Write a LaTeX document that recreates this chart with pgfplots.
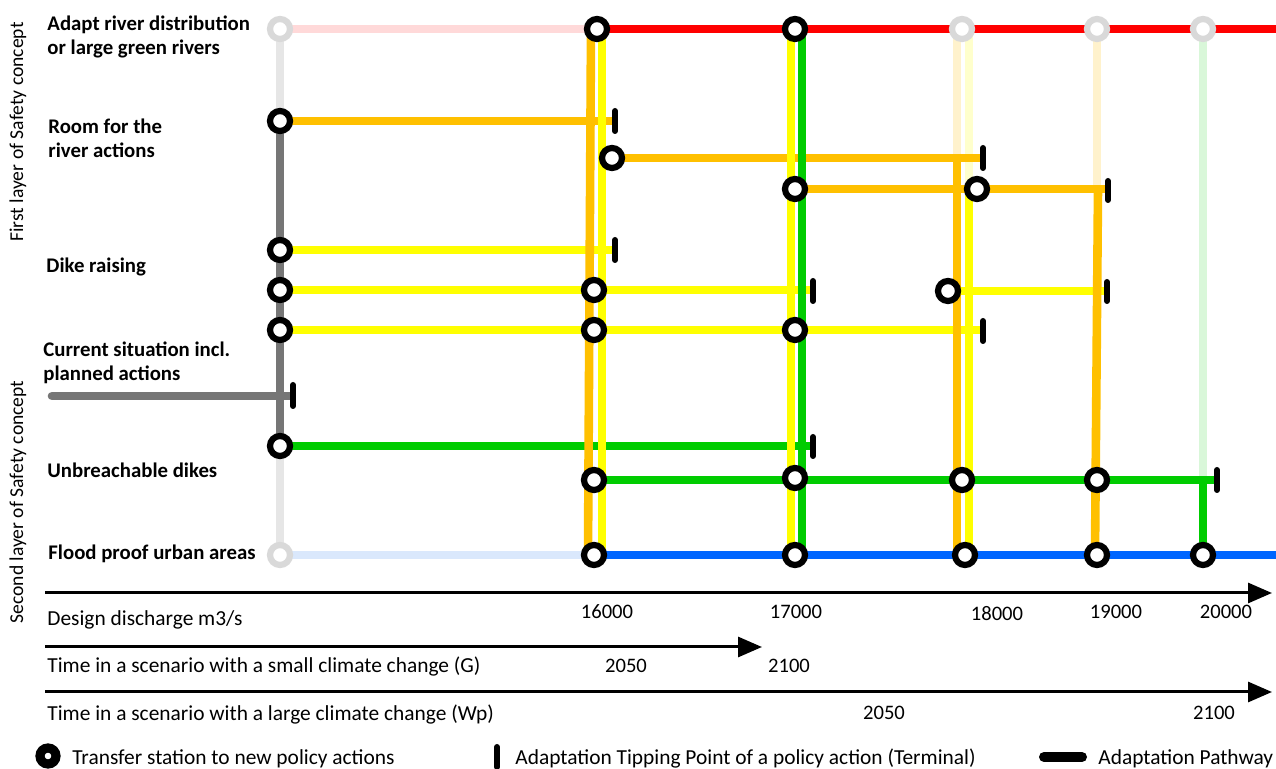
\documentclass[border=0pt]{standalone}
\usepackage{pgfplots}
\pgfplotsset{compat=1.18}
\usetikzlibrary{arrows.meta}
\usepackage{fontspec}
\setmainfont{Carlito}
\definecolor{cRed}{HTML}{FF0000}
\definecolor{cOrange}{HTML}{FFC000}
\definecolor{cYellow}{HTML}{FFFF00}
\definecolor{cGreen}{HTML}{00CC00}
\definecolor{cBlue}{HTML}{0066FF}
\definecolor{cGray}{HTML}{767676}
\definecolor{cLGray}{HTML}{E6E6E6}
\definecolor{cCirc}{HTML}{D9D9D9}
\definecolor{fRed}{HTML}{FFD9D9}
\definecolor{fBlue}{HTML}{DAE8FC}
\definecolor{fOrange}{HTML}{FFF2CC}
\definecolor{fYellow}{HTML}{FFFFCC}
\definecolor{fGreen}{HTML}{D9F7D9}
\tikzset{
 seg/.style={line width=4.3pt},
 term/.style={black, line width=3pt, line cap=round},
 stn/.style={black, only marks, mark=*, mark options={draw=black, fill=white, line width=3.1pt}, mark size=5pt},
 fstn/.style={cCirc, only marks, mark=*, mark options={draw=cCirc, fill=white, line width=3.1pt}, mark size=5pt},
 lab/.style={anchor=base west, font=\fontsize{10.4}{12}\selectfont\bfseries, inner sep=0pt},
 txt/.style={anchor=base west, font=\fontsize{10.7}{12}\selectfont, inner sep=0pt},
 num/.style={anchor=base, font=\fontsize{10.3}{12}\selectfont, inner sep=0pt},
 ax/.style={black, line width=1.5pt, -{Triangle[length=12pt,width=10pt]}},
}
\begin{document}
\begin{tikzpicture}
\begin{axis}[width=638pt,height=384.5pt,scale only axis,
  xmin=0,xmax=1276,ymin=0,ymax=769,y dir=reverse,hide axis,clip=false]
\coordinate (bl) at (axis cs:0,769);
\coordinate (tr) at (axis cs:1276,0);
% faded lines
\addplot[seg,fRed] coordinates {(280,29) (597,29)};
\addplot[seg,fBlue] coordinates {(280,555) (594,555)};
\addplot[seg,cLGray] coordinates {(280,29) (280,121)};
\addplot[seg,cLGray] coordinates {(280,446) (280,555)};
\addplot[seg,fOrange] coordinates {(957,29) (957,158)};
\addplot[seg,fYellow] coordinates {(969,29) (969,189)};
\addplot[seg,fOrange] coordinates {(1097,29) (1097,189)};
\addplot[seg,fGreen] coordinates {(1203,29) (1203,480)};
% faded stations
\addplot[fstn] coordinates {(280,29) (280,555) (962,29) (1097,29) (1203,29)};
% horizontal lines
\addplot[seg,cRed] coordinates {(597,29) (1276,29)};
\addplot[seg,cOrange] coordinates {(280,121) (612,121)};
\addplot[seg,cOrange] coordinates {(612,158) (983,158)};
\addplot[seg,cOrange] coordinates {(795,189) (1107,189)};
\addplot[seg,cYellow] coordinates {(280,250) (613,250)};
\addplot[seg,cYellow] coordinates {(280,290) (812,290)};
\addplot[seg,cYellow] coordinates {(948,291) (1106,291)};
\addplot[seg,cYellow] coordinates {(280,330) (983,330)};
\addplot[seg,cGray,line cap=round] coordinates {(52,396) (290,396)};
\addplot[seg,cGreen] coordinates {(280,446) (812,446)};
\addplot[seg,cGreen] coordinates {(594,480) (1215,480)};
\addplot[seg,cBlue] coordinates {(594,555) (1276,555)};
% vertical lines
\addplot[seg,cGray] coordinates {(280,121) (280,446)};
\addplot[seg,cOrange] coordinates {(591,29) (588,555)};
\addplot[seg,cYellow] coordinates {(602,29) (602,555)};
\addplot[seg,cYellow] coordinates {(791,29) (791,555)};
\addplot[seg,cGreen] coordinates {(802,29) (802,555)};
\addplot[seg,cOrange] coordinates {(957,154) (957,553)};
\addplot[seg,cYellow] coordinates {(969,189) (969,555)};
\addplot[seg,cOrange] coordinates {(1098,189) (1095,555)};
\addplot[seg,cGreen] coordinates {(1203,480) (1203,555)};
% terminals
\addplot[term] coordinates {(615,111) (615,131)};
\addplot[term] coordinates {(983,148) (983,168)};
\addplot[term] coordinates {(1108,181) (1108,200)};
\addplot[term] coordinates {(615,240) (615,260)};
\addplot[term] coordinates {(813,281) (813,301)};
\addplot[term] coordinates {(1107,282) (1107,301)};
\addplot[term] coordinates {(983,321) (983,341)};
\addplot[term] coordinates {(293,385) (293,406)};
\addplot[term] coordinates {(813,437) (813,456)};
\addplot[term] coordinates {(1217,470) (1217,490)};
% stations
\addplot[stn] coordinates {(597,29) (795,29) (280,121) (612,158) (795,189) (977,189)
 (280,250) (280,290) (594,290) (948,291) (280,330) (594,330) (795,330) (280,446)
 (594,480) (795,478) (962,480) (1097,480)
 (594,555) (795,555) (965,555) (1097,555) (1203,555)};
% row labels
\node[lab] at (axis cs:47,31) {Adapt river distribution};
\node[lab] at (axis cs:47,55) {or large green rivers};
\node[lab] at (axis cs:48,134) {Room for the};
\node[lab] at (axis cs:48,158) {river actions};
\node[lab] at (axis cs:46,273) {Dike raising};
\node[lab] at (axis cs:43,357) {Current situation incl.};
\node[lab] at (axis cs:43,381) {planned actions};
\node[lab] at (axis cs:47,478) {Unbreachable dikes};
\node[lab] at (axis cs:48,560) {Flood proof urban areas};
\node[rotate=90, font=\fontsize{9.8}{11}\selectfont, inner sep=0pt] at (axis cs:18,132) {First layer of Safety concept};
\node[rotate=90, font=\fontsize{9.8}{11}\selectfont, inner sep=0pt] at (axis cs:18,502) {Second layer of Safety concept};
% scale arrows
\draw[ax] (axis cs:45,593) -- (axis cs:1272,593);
\draw[ax] (axis cs:45,647) -- (axis cs:762,647);
\draw[ax] (axis cs:45,692) -- (axis cs:1272,692);
\node[txt] at (axis cs:47,626) {Design discharge m3/s};
\node[txt] at (axis cs:47,673) {Time in a scenario with a small climate change (G)};
\node[txt] at (axis cs:47,721) {Time in a scenario with a large climate change (Wp)};
\node[num] at (axis cs:607,619) {16000};
\node[num] at (axis cs:796,619) {17000};
\node[num] at (axis cs:997,621) {18000};
\node[num] at (axis cs:1116,619) {19000};
\node[num] at (axis cs:1226,619) {20000};
\node[num] at (axis cs:626,673) {2050};
\node[num] at (axis cs:789,673) {2100};
\node[num] at (axis cs:884,720) {2050};
\node[num] at (axis cs:1214,720) {2100};
% legend
\addplot[black, only marks, mark=*, mark options={draw=black, fill=white, line width=4.6pt}, mark size=4pt] coordinates {(48,756)};
\node[txt] at (axis cs:72,765) {Transfer station to new policy actions};
\addplot[term] coordinates {(497,747) (497,767)};
\node[txt] at (axis cs:515,765) {Adaptation Tipping Point of a policy action (Terminal)};
\addplot[black, line width=5pt, line cap=round] coordinates {(1044,757) (1082,757)};
\node[txt] at (axis cs:1098,765) {Adaptation Pathway};
\end{axis}
\pgfresetboundingbox
\path (bl) rectangle (tr);
\end{tikzpicture}
\end{document}
